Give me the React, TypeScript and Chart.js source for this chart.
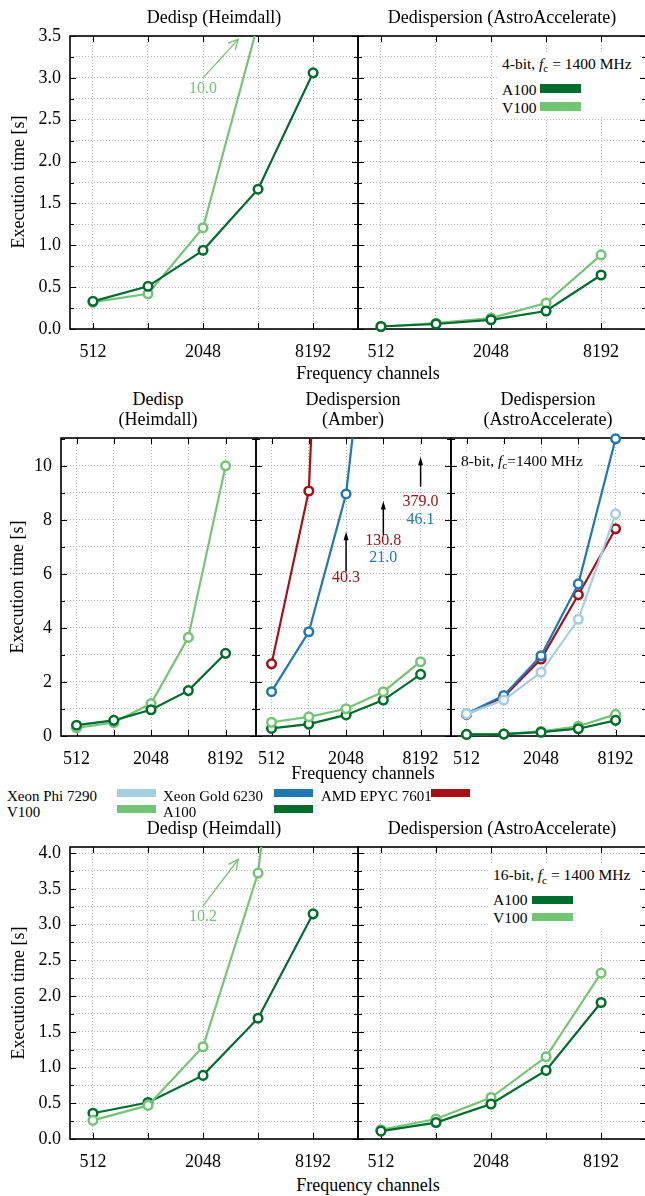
import React, { useEffect, useRef } from "react";
import { Chart, registerables } from "chart.js";

Chart.register(...registerables);

const FONT = "'Liberation Serif', 'Times New Roman', serif";

// Frequency channels (x) and their tick labels
const channels = [512, 1024, 2048, 4096, 8192];
const channelLabels = ["512", "", "2048", "", "8192"];

// Execution-time tick labels, one per major tick
const timeLabels35 = ["0.0", "0.5", "1.0", "1.5", "2.0", "2.5", "3.0", "3.5"];
const timeLabels11 = ["0", "2", "4", "6", "8", "10"];
const timeLabels40 = ["0.0", "0.5", "1.0", "1.5", "2.0", "2.5", "3.0", "3.5", "4.0"];

// 4-bit samples
const heimdall4A100 = [0.33, 0.51, 0.94, 1.67, 3.06];
const heimdall4V100 = [0.32, 0.42, 1.21, 3.65, 10.0];
const astro4A100 = [0.03, 0.06, 0.11, 0.215, 0.645];
const astro4V100 = [0.03, 0.07, 0.13, 0.31, 0.885];

// 8-bit samples
const heimdall8A100 = [0.4, 0.58, 0.97, 1.68, 3.06];
const heimdall8V100 = [0.3, 0.5, 1.2, 3.65, 10.0];
const amber8A100 = [0.28, 0.44, 0.78, 1.33, 2.28];
const amber8V100 = [0.51, 0.71, 1.01, 1.64, 2.75];
const amber8XeonGold = [1.64, 3.86, 8.96, 21.0, 46.1];
const amber8Epyc = [2.67, 9.07, 40.3, 130.8, 379.0];
const astro8A100 = [0.06, 0.07, 0.14, 0.27, 0.58];
const astro8V100 = [0.06, 0.08, 0.17, 0.36, 0.8];
const astro8XeonPhi = [0.82, 1.33, 2.36, 4.32, 8.22];
const astro8XeonGold = [0.82, 1.5, 2.97, 5.63, 11.0];
const astro8Epyc = [0.8, 1.45, 2.85, 5.23, 7.67];

// 16-bit samples
const heimdall16A100 = [0.36, 0.51, 0.89, 1.69, 3.15];
const heimdall16V100 = [0.26, 0.47, 1.29, 3.72, 10.2];
const astro16A100 = [0.11, 0.23, 0.49, 0.96, 1.91];
const astro16V100 = [0.13, 0.28, 0.58, 1.15, 2.32];

const DARK_GREEN = "#006d2c";
const LIGHT_GREEN = "#74c476";
const BLUE = "#1f78b4";
const LIGHT_BLUE = "#a6cee3";
const RED = "#a50f15";
const GRID = "#b4b4b4";

const X_MIN = 383.5;
const X_MAX = 14420;

type Series = { label: string; values: number[]; color: string };
type Arrow = { from: [number, number]; to: [number, number]; color: string; filled: boolean };
type Note = { at: [number, number]; text: string; color: string };
type PanelDef = {
  key: string;
  area: { left: number; top: number; width: number; height: number };
  yMax: number;
  yMinor: number;
  yMajor: number;
  yLabels: string[];
  showY: boolean;
  series: Series[]; // first entry is drawn on top
  arrows?: Arrow[];
  notes?: Note[];
};

const PANELS: PanelDef[] = [
  {
    key: "h4",
    area: { left: 70, top: 36, width: 288, height: 293 },
    yMax: 3.5, yMinor: 0.25, yMajor: 0.5, yLabels: timeLabels35, showY: true,
    series: [
      { label: "A100", values: heimdall4A100, color: DARK_GREEN },
      { label: "V100", values: heimdall4V100, color: LIGHT_GREEN },
    ],
    arrows: [{ from: [2048, 3.0], to: [3190, 3.46], color: LIGHT_GREEN, filled: false }],
    notes: [{ at: [2048, 2.875], text: heimdall4V100[4].toFixed(1), color: LIGHT_GREEN }],
  },
  {
    key: "a4",
    area: { left: 358, top: 36, width: 288, height: 293 },
    yMax: 3.5, yMinor: 0.25, yMajor: 0.5, yLabels: timeLabels35, showY: false,
    series: [
      { label: "A100", values: astro4A100, color: DARK_GREEN },
      { label: "V100", values: astro4V100, color: LIGHT_GREEN },
    ],
  },
  {
    key: "h8",
    area: { left: 61, top: 438, width: 195, height: 298 },
    yMax: 11.03, yMinor: 1, yMajor: 2, yLabels: timeLabels11, showY: true,
    series: [
      { label: "A100", values: heimdall8A100, color: DARK_GREEN },
      { label: "V100", values: heimdall8V100, color: LIGHT_GREEN },
    ],
  },
  {
    key: "m8",
    area: { left: 256, top: 438, width: 195, height: 298 },
    yMax: 11.03, yMinor: 1, yMajor: 2, yLabels: timeLabels11, showY: false,
    series: [
      { label: "V100", values: amber8V100, color: LIGHT_GREEN },
      { label: "A100", values: amber8A100, color: DARK_GREEN },
      { label: "Xeon Gold 6230", values: amber8XeonGold, color: BLUE },
      { label: "AMD EPYC 7601", values: amber8Epyc, color: RED },
    ],
    arrows: [
      { from: [2048, 6.09], to: [2048, 7.57], color: "#000", filled: true },
      { from: [4096, 7.44], to: [4096, 8.7], color: "#000", filled: true },
      { from: [8192, 9.23], to: [8192, 10.34], color: "#000", filled: true },
    ],
    notes: [
      { at: [2048, 5.86], text: amber8Epyc[2].toFixed(1), color: RED },
      { at: [4096, 7.23], text: amber8Epyc[3].toFixed(1), color: RED },
      { at: [4096, 6.58], text: amber8XeonGold[3].toFixed(1), color: BLUE },
      { at: [8192, 8.66], text: amber8Epyc[4].toFixed(1), color: RED },
      { at: [8192, 8.0], text: amber8XeonGold[4].toFixed(1), color: BLUE },
    ],
  },
  {
    key: "a8",
    area: { left: 451, top: 438, width: 195, height: 298 },
    yMax: 11.03, yMinor: 1, yMajor: 2, yLabels: timeLabels11, showY: false,
    series: [
      { label: "A100", values: astro8A100, color: DARK_GREEN },
      { label: "V100", values: astro8V100, color: LIGHT_GREEN },
      { label: "Xeon Phi 7290", values: astro8XeonPhi, color: LIGHT_BLUE },
      { label: "Xeon Gold 6230", values: astro8XeonGold, color: BLUE },
      { label: "AMD EPYC 7601", values: astro8Epyc, color: RED },
    ],
  },
  {
    key: "h16",
    area: { left: 70, top: 847, width: 288, height: 292 },
    yMax: 4.085, yMinor: 0.25, yMajor: 0.5, yLabels: timeLabels40, showY: true,
    series: [
      { label: "V100", values: heimdall16V100, color: LIGHT_GREEN },
      { label: "A100", values: heimdall16A100, color: DARK_GREEN },
    ],
    arrows: [{ from: [2048, 3.26], to: [3190, 3.91], color: LIGHT_GREEN, filled: false }],
    notes: [{ at: [2048, 3.11], text: heimdall16V100[4].toFixed(1), color: LIGHT_GREEN }],
  },
  {
    key: "a16",
    area: { left: 358, top: 847, width: 288, height: 292 },
    yMax: 4.085, yMinor: 0.25, yMajor: 0.5, yLabels: timeLabels40, showY: false,
    series: [
      { label: "A100", values: astro16A100, color: DARK_GREEN },
      { label: "V100", values: astro16V100, color: LIGHT_GREEN },
    ],
  },
];

function drawArrow(ctx: CanvasRenderingContext2D, x0: number, y0: number, x1: number, y1: number, color: string, filled: boolean) {
  const a = Math.atan2(y1 - y0, x1 - x0);
  ctx.save();
  ctx.strokeStyle = color;
  ctx.fillStyle = color;
  ctx.lineWidth = filled ? 1.5 : 1.3;
  ctx.beginPath();
  ctx.moveTo(x0, y0);
  ctx.lineTo(filled ? x1 - 4 * Math.cos(a) : x1, filled ? y1 - 4 * Math.sin(a) : y1);
  ctx.stroke();
  const head = filled ? 9 : 11;
  const spread = filled ? 0.28 : 0.47;
  ctx.beginPath();
  ctx.moveTo(x1 - head * Math.cos(a - spread), y1 - head * Math.sin(a - spread));
  ctx.lineTo(x1, y1);
  ctx.lineTo(x1 - head * Math.cos(a + spread), y1 - head * Math.sin(a + spread));
  if (filled) {
    ctx.closePath();
    ctx.fill();
  } else {
    ctx.stroke();
  }
  ctx.restore();
}

function Panel({ def }: { def: PanelDef }) {
  const ref = useRef<HTMLCanvasElement>(null);
  const yW = def.showY ? 52 : 0;
  const padL = def.showY ? 0 : 16;
  const padT = 26;
  const padR = 16;
  const xH = 36;
  const box = {
    left: def.area.left - yW - padL,
    top: def.area.top - padT,
    width: def.area.width + yW + padL + padR,
    height: def.area.height + padT + xH,
  };

  useEffect(() => {
    const canvas = ref.current;
    if (!canvas) return;

    const isMajor = (v: number) => {
      const k = v / def.yMajor;
      return Math.abs(k - Math.round(k)) < 1e-6;
    };

    const framePlugin = {
      id: "frame",
      beforeDatasetsDraw(chart: any) {
        const { ctx, chartArea: a, scales } = chart;
        ctx.save();
        ctx.strokeStyle = "#000";
        ctx.lineWidth = 1;
        ctx.beginPath();
        for (const t of scales.x.ticks) {
          const px = Math.round(scales.x.getPixelForValue(t.value)) + 0.5;
          ctx.moveTo(px, a.bottom);
          ctx.lineTo(px, a.bottom - 6);
          ctx.moveTo(px, a.top);
          ctx.lineTo(px, a.top + 6);
        }
        for (const t of scales.y.ticks) {
          const py = Math.round(scales.y.getPixelForValue(t.value)) + 0.5;
          const len = isMajor(t.value) ? 6 : 4;
          ctx.moveTo(a.left, py);
          ctx.lineTo(a.left + len, py);
          ctx.moveTo(a.right, py);
          ctx.lineTo(a.right - len, py);
        }
        ctx.stroke();
        ctx.lineWidth = 1.6;
        ctx.strokeRect(a.left, a.top, a.right - a.left, a.bottom - a.top);
        ctx.restore();
      },
    };

    const notesPlugin = {
      id: "notes",
      afterDatasetsDraw(chart: any) {
        const { ctx, scales } = chart;
        const px = (v: number) => scales.x.getPixelForValue(v);
        const py = (v: number) => scales.y.getPixelForValue(v);
        for (const ar of def.arrows || []) {
          drawArrow(ctx, px(ar.from[0]), py(ar.from[1]), px(ar.to[0]), py(ar.to[1]), ar.color, ar.filled);
        }
        ctx.save();
        ctx.font = `16px ${FONT}`;
        ctx.textAlign = "center";
        ctx.textBaseline = "middle";
        for (const n of def.notes || []) {
          ctx.fillStyle = n.color;
          ctx.fillText(n.text, px(n.at[0]), py(n.at[1]));
        }
        ctx.restore();
      },
    };

    const datasets = def.series.map((s) => {
      const over = s.values.some((v) => v > def.yMax);
      return {
        label: s.label,
        data: s.values.map((y, i) => ({ x: channels[i], y })),
        borderColor: s.color,
        backgroundColor: "#ffffff",
        borderWidth: 2.2,
        pointRadius: 4.3,
        pointBorderWidth: 2.5,
        pointBackgroundColor: "#ffffff",
        pointBorderColor: s.color,
        tension: 0,
        clip: { left: 30, right: 30, bottom: 30, top: over ? 0 : 30 },
      };
    });

    const chart = new Chart(canvas, {
      type: "line",
      data: { datasets },
      plugins: [framePlugin, notesPlugin],
      options: {
        responsive: false,
        animation: false,
        devicePixelRatio: 1,
        events: [],
        layout: { padding: { left: padL, top: padT, right: padR, bottom: 0 } },
        plugins: {
          legend: { display: false },
          tooltip: { enabled: false },
          title: { display: false },
        },
        scales: {
          x: {
            type: "logarithmic",
            min: X_MIN,
            max: X_MAX,
            afterBuildTicks: (s: any) => {
              s.ticks = channels.map((v) => ({ value: v }));
            },
            afterFit: (s: any) => {
              s.height = xH;
            },
            grid: { color: GRID, lineWidth: 1, drawTicks: false },
            border: { display: false, dash: [1, 2] },
            ticks: {
              autoSkip: false,
              maxRotation: 0,
              padding: 12,
              color: "#000",
              font: { family: FONT, size: 18 },
              callback: (value: any) => {
                const i = channels.indexOf(Number(value));
                return i >= 0 ? channelLabels[i] : "";
              },
            },
          },
          y: {
            type: "linear",
            min: 0,
            max: def.yMax,
            afterBuildTicks: (s: any) => {
              const ticks: { value: number }[] = [];
              for (let i = 0; i * def.yMinor <= def.yMax + 1e-9; i++) {
                ticks.push({ value: +(i * def.yMinor).toFixed(4) });
              }
              s.ticks = ticks;
            },
            afterFit: (s: any) => {
              s.width = yW;
            },
            grid: { color: GRID, lineWidth: 1, drawTicks: false },
            border: { display: false, dash: [1, 2] },
            ticks: {
              display: def.showY,
              autoSkip: false,
              padding: 9,
              color: "#000",
              font: { family: FONT, size: 18 },
              callback: (value: any) => {
                const v = Number(value);
                if (!isMajor(v)) return "";
                return def.yLabels[Math.round(v / def.yMajor)] ?? "";
              },
            },
          },
        },
      } as any,
    });
    return () => chart.destroy();
  }, []);

  return (
    <canvas
      ref={ref}
      width={box.width}
      height={box.height}
      style={{ position: "absolute", left: box.left, top: box.top, width: box.width, height: box.height }}
    />
  );
}

function Text({ x, y, size = 18, children, align = "center", color = "#000" }: any) {
  const tx = align === "center" ? "-50%" : "0";
  return (
    <div
      style={{
        position: "absolute",
        left: x,
        top: y,
        fontSize: size,
        lineHeight: 1,
        whiteSpace: "nowrap",
        color,
        transform: `translate(${tx}, -50%)`,
      }}
    >
      {children}
    </div>
  );
}

function Swatch({ x, y, w = 41, h = 8.5, color }: any) {
  return <div style={{ position: "absolute", left: x, top: y, width: w, height: h, background: color }} />;
}

function RotatedLabel({ x, y }: { x: number; y: number }) {
  return (
    <div
      style={{
        position: "absolute",
        left: x,
        top: y,
        fontSize: 18,
        lineHeight: 1,
        whiteSpace: "nowrap",
        transform: "translate(-50%, -50%) rotate(-90deg)",
      }}
    >
      Execution time [s]
    </div>
  );
}

function Fc() {
  return (
    <span>
      <i>f</i>
      <span style={{ fontSize: "0.72em", position: "relative", top: "0.32em" }}>c</span>
    </span>
  );
}

function WhiteBox({ x, y, w, h }: any) {
  return <div style={{ position: "absolute", left: x, top: y, width: w, height: h, background: "#fff" }} />;
}

export default function App() {
  return (
    <div
      style={{
        position: "absolute",
        left: 0,
        top: 0,
        width: 645,
        height: 1196,
        overflow: "hidden",
        background: "#fff",
        fontFamily: FONT,
        color: "#000",
      }}
    >
      {PANELS.map((p) => (
        <Panel key={p.key} def={p} />
      ))}

      {/* 4-bit row */}
      <Text x={214} y={17}>Dedisp (Heimdall)</Text>
      <Text x={502} y={17}>Dedispersion (AstroAccelerate)</Text>
      <RotatedLabel x={17.5} y={182} />
      <Text x={368} y={372.5}>Frequency channels</Text>
      <WhiteBox x={497} y={53} w={142} h={64} />
      <Text x={502} y={63.5} size={15.5} align="left">
        4-bit, <Fc /> = 1400 MHz
      </Text>
      <Text x={502} y={89.5} size={15.5} align="left">A100</Text>
      <Swatch x={540} y={84.3} color={DARK_GREEN} />
      <Text x={502} y={107.5} size={15.5} align="left">V100</Text>
      <Swatch x={540} y={102.2} color={LIGHT_GREEN} />

      {/* 8-bit row */}
      <Text x={158} y={398.5}>Dedisp</Text>
      <Text x={158} y={418.5}>(Heimdall)</Text>
      <Text x={353} y={398.5}>Dedispersion</Text>
      <Text x={353} y={418.5}>(Amber)</Text>
      <Text x={548} y={398.5}>Dedispersion</Text>
      <Text x={548} y={418.5}>(AstroAccelerate)</Text>
      <RotatedLabel x={17} y={587} />
      <WhiteBox x={457} y={451} w={136} h={19} />
      <Text x={461} y={460.5} size={15.5} align="left">
        8-bit, <Fc />=1400 MHz
      </Text>
      <Text x={363} y={773}>Frequency channels</Text>

      {/* shared legend */}
      <Text x={7} y={795.5} size={15} align="left">Xeon Phi 7290</Text>
      <Swatch x={117} y={789.3} w={39} h={8} color={LIGHT_BLUE} />
      <Text x={163} y={795.5} size={15} align="left">Xeon Gold 6230</Text>
      <Swatch x={274} y={789.3} w={39} h={8} color={BLUE} />
      <Text x={321} y={795.5} size={15} align="left">AMD EPYC 7601</Text>
      <Swatch x={431} y={789.3} w={39} h={8} color={RED} />
      <Text x={7} y={811.5} size={15} align="left">V100</Text>
      <Swatch x={117} y={805.3} w={39} h={8} color={LIGHT_GREEN} />
      <Text x={163} y={811.5} size={15} align="left">A100</Text>
      <Swatch x={274} y={805.3} w={39} h={8} color={DARK_GREEN} />

      {/* 16-bit row */}
      <Text x={214} y={827.5}>Dedisp (Heimdall)</Text>
      <Text x={502} y={827.5}>Dedispersion (AstroAccelerate)</Text>
      <RotatedLabel x={17.5} y={993} />
      <Text x={368} y={1184.5}>Frequency channels</Text>
      <WhiteBox x={488} y={864} w={151} h={66} />
      <Text x={493} y={875} size={15.5} align="left">
        16-bit, <Fc /> = 1400 MHz
      </Text>
      <Text x={493} y={900} size={15.5} align="left">A100</Text>
      <Swatch x={532} y={895.7} color={DARK_GREEN} />
      <Text x={493} y={918} size={15.5} align="left">V100</Text>
      <Swatch x={532} y={912.5} color={LIGHT_GREEN} />
    </div>
  );
}
